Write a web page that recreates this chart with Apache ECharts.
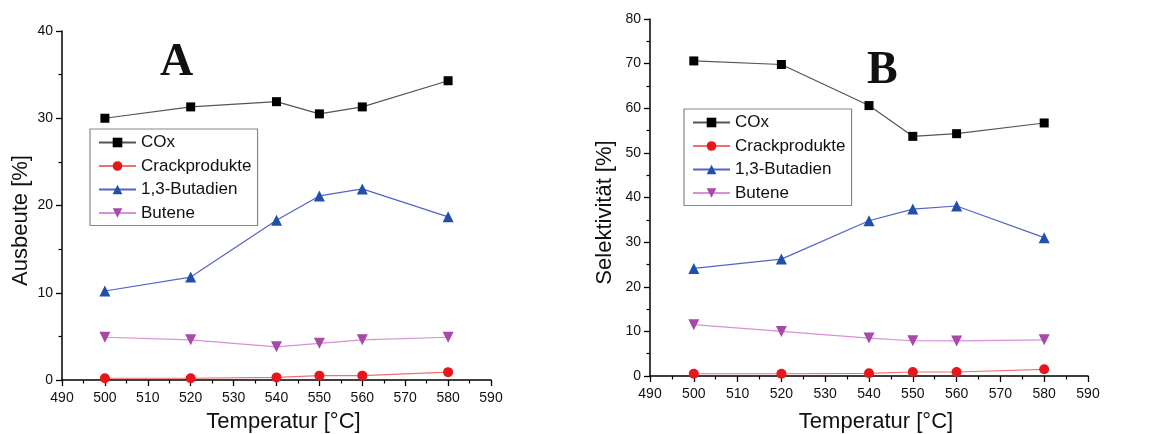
<!DOCTYPE html>
<html><head><meta charset="utf-8">
<script src="https://cdn.jsdelivr.net/npm/echarts@6/dist/echarts.min.js"></script>
<style>html,body{margin:0;padding:0;background:#fff}#c{width:1163px;height:434px}</style>
</head><body><div id="c"></div>
<script>
const temps = [500, 520, 540, 550, 560, 580];
const seriesNames = ['COx', 'Crackprodukte', '1,3-Butadien', 'Butene'];
// Panel A: Ausbeute [%]
const yieldCOx = [30.0, 31.3, 31.9, 30.5, 31.3, 34.3];
const yieldCrack = [0.2, 0.2, 0.3, 0.5, 0.5, 0.9];
const yieldButadien = [10.2, 11.8, 18.3, 21.1, 21.9, 18.7];
const yieldButene = [4.9, 4.6, 3.8, 4.2, 4.6, 4.9];
// Panel B: Selektivität [%]
const selCOx = [70.6, 69.8, 60.6, 53.7, 54.3, 56.7];
const selCrack = [0.5, 0.5, 0.6, 0.9, 0.9, 1.5];
const selButadien = [24.1, 26.2, 34.8, 37.4, 38.1, 31.0];
const selButene = [11.5, 10.0, 8.5, 7.9, 7.85, 8.1];
const xTickLabels = ['490','500','510','520','530','540','550','560','570','580','590'];

const styles = [
  {symbol:'rect', rot:0, size:9, mc:'#000000', lc:'#555555'},
  {symbol:'circle', rot:0, size:10, mc:'#e8151c', lc:'#f07070'},
  {symbol:'triangle', rot:0, size:11, mc:'#2150a8', lc:'#5563c8'},
  {symbol:'triangle', rot:180, size:11, mc:'#a54aa8', lc:'#d890d8'}
];
const font = 'Liberation Sans, Arial, sans-serif';

function mk(name, data, idx, si) {
  const s = styles[si];
  return {
    name: name, type: 'line', xAxisIndex: idx, yAxisIndex: idx,
    data: temps.map((t, i) => [t, data[i]]),
    symbol: s.symbol, symbolRotate: s.rot, symbolSize: s.size,
    itemStyle: {color: s.mc}, lineStyle: {color: s.lc, width: 1.2},
    animation: false
  };
}
function xAx(grid, shift, gap) {
  return {
    type: 'value', gridIndex: grid, min: 490, max: 590, interval: 10,
    name: 'Temperatur [°C]', nameLocation: 'middle', nameGap: gap,
    nameTextStyle: {fontFamily: font, fontSize: 22, color: '#111', padding: [0, 0, 0, shift]},
    axisLine: {show: true, lineStyle: {color: '#000', width: 1.5}},
    axisTick: {show: true, inside: false, length: 6, lineStyle: {color: '#000', width: 1.3}},
    minorTick: {show: true, splitNumber: 2, length: 3.5, lineStyle: {color: '#000', width: 1.2}},
    axisLabel: {fontFamily: font, fontSize: 14, color: '#111', margin: 11,
      formatter: v => xTickLabels[Math.round((v - 490) / 10)]},
    splitLine: {show: false}
  };
}
function yAx(grid, name, max, gap) {
  return {
    type: 'value', gridIndex: grid, min: 0, max: max, interval: 10,
    name: name, nameLocation: 'middle', nameGap: gap, nameRotate: 90,
    nameTextStyle: {fontFamily: font, fontSize: 22, color: '#111', padding: [0, 30, 0, 0]},
    axisLine: {show: true, lineStyle: {color: '#000', width: 1.5}},
    axisTick: {show: true, inside: false, length: 6, lineStyle: {color: '#000', width: 1.3}},
    minorTick: {show: true, splitNumber: 2, length: 3.5, lineStyle: {color: '#000', width: 1.2}},
    axisLabel: {fontFamily: font, fontSize: 14, color: '#111', margin: 9},
    splitLine: {show: false}
  };
}
function leg(left, top) {
  return {
    orient: 'vertical', left: left, top: top, data: seriesNames,
    itemWidth: 37, itemHeight: 12, itemGap: 4.5,
    borderColor: '#888', borderWidth: 1.2, padding: [4, 6, 3, 8],
    backgroundColor: '#fff',
    textStyle: {fontFamily: font, fontSize: 17, color: '#111', lineHeight: 19},
    selectedMode: false
  };
}

const chart = echarts.init(document.getElementById('c'), null, {renderer: 'canvas'});
chart.setOption({
  animation: false,
  backgroundColor: '#fff',
  grid: [
    {left: 62, top: 31, width: 429, height: 349, outerBoundsMode: 'none', containLabel: false},
    {left: 650, top: 19, width: 438, height: 357, outerBoundsMode: 'none', containLabel: false}
  ],
  xAxis: [xAx(0, 14, 31), xAx(1, 14, 35)],
  yAxis: [yAx(0, 'Ausbeute [%]', 40, 30), yAx(1, 'Selektivität [%]', 80, 34)],
  legend: [leg(90, 129), leg(684, 109)],
  graphic: [
    {type: 'text', left: 160, top: 40, style: {text: 'A', fontFamily: 'Liberation Serif, Times New Roman, serif', fontWeight: 'bold', fontSize: 46, fill: '#111'}},
    {type: 'text', left: 867, top: 48, style: {text: 'B', fontFamily: 'Liberation Serif, Times New Roman, serif', fontWeight: 'bold', fontSize: 46, fill: '#111'}}
  ],
  series: [
    mk('COx', yieldCOx, 0, 0), mk('Crackprodukte', yieldCrack, 0, 1),
    mk('1,3-Butadien', yieldButadien, 0, 2), mk('Butene', yieldButene, 0, 3),
    mk('COx', selCOx, 1, 0), mk('Crackprodukte', selCrack, 1, 1),
    mk('1,3-Butadien', selButadien, 1, 2), mk('Butene', selButene, 1, 3)
  ]
});
</script></body></html>
